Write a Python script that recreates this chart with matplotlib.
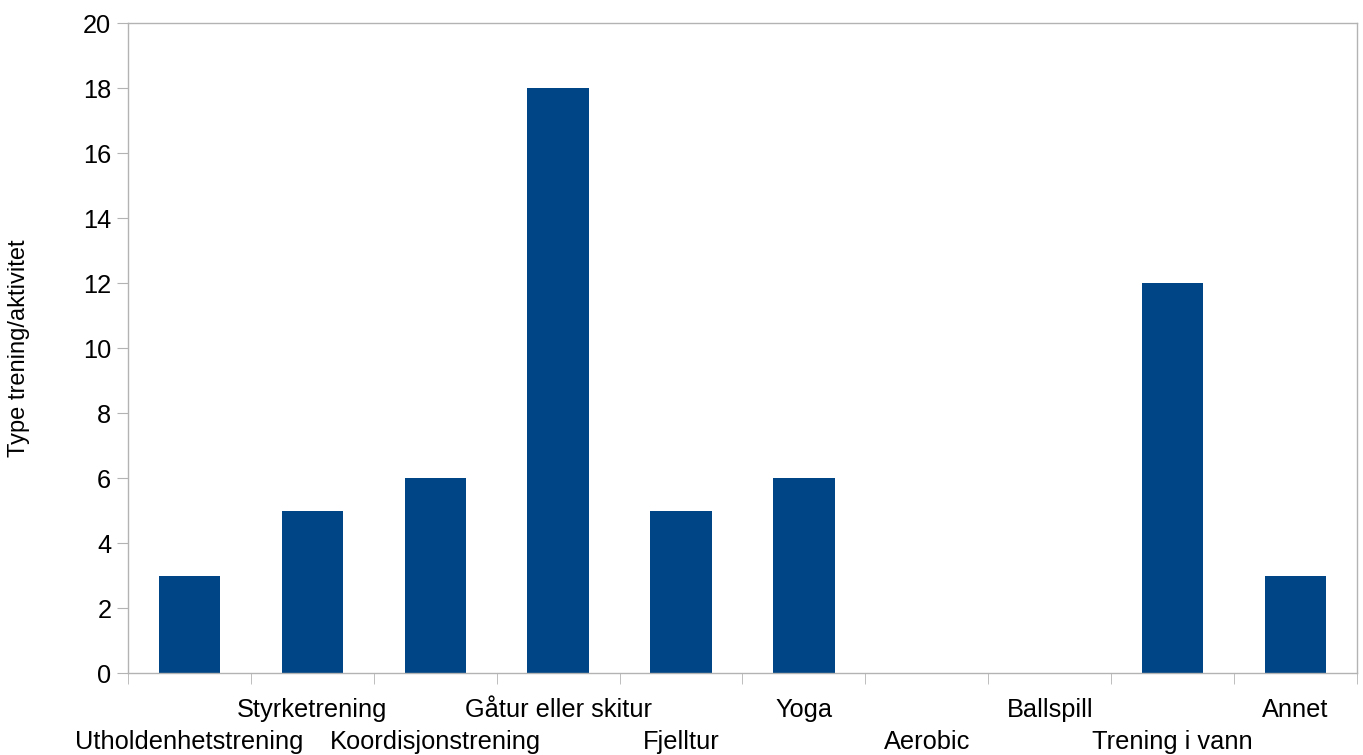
import matplotlib.pyplot as plt
import numpy as np

categories = ["Utholdenhetstrening", "Styrketrening", "Koordisjonstrening",
              "Gåtur eller skitur", "Fjelltur", "Yoga", "Aerobic",
              "Ballspill", "Trening i vann", "Annet"]
counts = [3, 5, 6, 18, 5, 6, 0, 0, 12, 3]
y_ticks = list(range(0, 21, 2))

plt.rcParams['font.family'] = ['Liberation Sans', 'DejaVu Sans']

fig = plt.figure(figsize=(13.63, 7.55), dpi=100)
ax = fig.add_axes([0.0939, 0.1086, 0.9017, 0.8609])

x = np.arange(len(categories))
ax.bar(x, counts, width=0.5, color='#004586', zorder=2)

ax.set_xlim(-0.5, len(categories) - 0.5)
ax.set_ylim(0, 20)

grey = '#b3b3b3'
for s in ax.spines.values():
    s.set_color(grey)
    s.set_linewidth(1.0)

ax.set_yticks(y_ticks)
ax.tick_params(axis='y', length=8, color=grey, labelsize=18.3, pad=4)

# labels alternate between two rows
labels = [("\n" + c) if i % 2 == 0 else c for i, c in enumerate(categories)]
ax.set_xticks(x)
ax.set_xticklabels(labels, fontsize=18.3, linespacing=1.42)
ax.tick_params(axis='x', which='major', length=0, pad=18)
ax.set_xticks(np.arange(-0.5, len(categories)), minor=True)
ax.tick_params(axis='x', which='minor', length=8, color=grey)

ax.set_ylabel("Type trening/aktivitet", fontsize=17, labelpad=38)

fig.savefig("out.png", dpi=100)
